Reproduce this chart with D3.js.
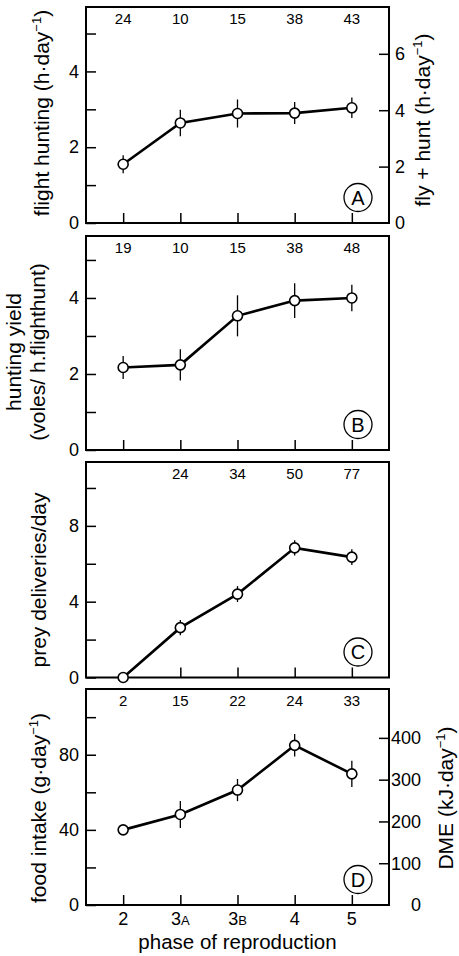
<!DOCTYPE html>
<html>
<head>
<meta charset="utf-8">
<script src="https://cdn.jsdelivr.net/npm/d3@7"></script>
<style>
  body { margin: 0; background: #fff; }
  svg { display: block; font-family: "Liberation Sans", Arial, Helvetica, sans-serif; }
</style>
</head>
<body>
<svg id="chart"></svg>
<script>
// phases of reproduction (x categories)
var phases = ["2", "3A", "3B", "4", "5"];

// A: flight hunting (h/day)
var flightHunt = [1.55, 2.64, 2.89, 2.90, 3.04];
var flightHuntErr = [0.24, 0.35, 0.37, 0.29, 0.27];
var flightHuntN = ["24", "10", "15", "38", "43"];

// B: hunting yield (voles / h flighthunt)
var huntYield = [2.17, 2.24, 3.53, 3.93, 4.00];
var huntYieldErr = [0.30, 0.41, 0.54, 0.46, 0.35];
var huntYieldN = ["19", "10", "15", "38", "48"];

// C: prey deliveries per day
var preyDeliv = [0, 2.63, 4.40, 6.84, 6.35];
var preyDelivErr = [0, 0.40, 0.42, 0.40, 0.42];
var preyDelivN = ["", "24", "34", "50", "77"];

// D: food intake (g/day)
var foodIntake = [40, 48.2, 61.2, 85, 69.8];
var foodIntakeErr = [1.5, 7.2, 5.9, 6.0, 7.0];
var foodIntakeN = ["2", "15", "22", "24", "33"];

// axis ticks
var ticksA = [0, 1, 2, 3, 4, 5], labelsA = [0, 2, 4];
var ticksB = [0, 1, 2, 3, 4, 5], labelsB = [0, 2, 4];
var ticksC = [0, 2, 4, 6, 8, 10], labelsC = [0, 4, 8];
var ticksD = [0, 20, 40, 60, 80, 100], labelsD = [0, 40, 80];
var ticksARight = [2, 4, 6], labelsARight = [0, 2, 4, 6];
var ticksDRight = [100, 200, 300, 400], labelsDRight = [0, 100, 200, 300, 400];

var W = 459, H = 956;
var left = 86, right = 389;

var svg = d3.select("#chart").attr("width", W).attr("height", H);

var x = d3.scalePoint().domain(phases).range([left, right]).padding(0.65);

var panels = [
  { tag: "A", top: 7, bottom: 223, yMax: 5.7, vals: flightHunt, err: flightHuntErr, n: flightHuntN,
    ticks: ticksA, labels: labelsA, xTicks: phases,
    rMax: 7.66, rTicks: ticksARight, rLabels: labelsARight, rAnchor: "start", rX: 395 },
  { tag: "B", top: 236, bottom: 450, yMax: 5.63, vals: huntYield, err: huntYieldErr, n: huntYieldN,
    ticks: ticksB, labels: labelsB, xTicks: phases },
  { tag: "C", top: 462, bottom: 677.5, yMax: 11.37, vals: preyDeliv, err: preyDelivErr, n: preyDelivN,
    ticks: ticksC, labels: labelsC, xTicks: phases.slice(1) },
  { tag: "D", top: 689, bottom: 905, yMax: 115, vals: foodIntake, err: foodIntakeErr, n: foodIntakeN,
    ticks: ticksD, labels: labelsD, xTicks: phases,
    rMax: 517, rTicks: ticksDRight, rLabels: labelsDRight, rAnchor: "end", rX: 421 }
];

panels.forEach(function (p) {
  var y = d3.scaleLinear().domain([0, p.yMax]).range([p.bottom, p.top]);
  var g = svg.append("g");

  // left axis, inward ticks
  var la = g.append("g")
    .attr("transform", "translate(" + left + ",0)")
    .call(d3.axisLeft(y).tickValues(p.ticks).tickSize(-10).tickPadding(7)
      .tickFormat(function (d) { return p.labels.indexOf(d) >= 0 ? d : ""; }));
  la.select(".domain").remove();
  la.selectAll("line").attr("stroke-width", 1.5);
  la.selectAll("text").attr("font-size", 18).attr("font-family", null);

  // right axis (A and D only), labels placed by hand so "0" has no tick
  if (p.rMax) {
    var yr = d3.scaleLinear().domain([0, p.rMax]).range([p.bottom, p.top]);
    var ra = g.append("g")
      .attr("transform", "translate(" + right + ",0)")
      .call(d3.axisRight(yr).tickValues(p.rTicks).tickSize(-10).tickFormat(""));
    ra.select(".domain").remove();
    ra.selectAll("line").attr("stroke-width", 1.5);
    g.selectAll(".rlab")
      .data(p.rLabels)
      .enter().append("text")
      .attr("class", "rlab")
      .attr("x", p.rX)
      .attr("y", function (d) { return yr(d); })
      .attr("dy", "0.35em")
      .attr("text-anchor", p.rAnchor)
      .attr("font-size", 18)
      .text(function (d) { return d; });
  }

  // bottom inward ticks
  var ba = g.append("g")
    .attr("transform", "translate(0," + p.bottom + ")")
    .call(d3.axisBottom(x).tickValues(p.xTicks).tickSize(-10).tickFormat(""));
  ba.select(".domain").remove();
  ba.selectAll("line").attr("stroke-width", 1.5);

  // frame
  g.append("rect")
    .attr("x", left).attr("y", p.top)
    .attr("width", right - left).attr("height", p.bottom - p.top)
    .attr("fill", "none").attr("stroke", "#000").attr("stroke-width", 2);

  // sample sizes along the top
  g.selectAll(".nlab")
    .data(p.n)
    .enter().append("text")
    .attr("class", "nlab")
    .attr("x", function (d, i) { return x(phases[i]); })
    .attr("y", p.top + 17)
    .attr("text-anchor", "middle")
    .attr("font-size", 15)
    .text(function (d) { return d; });

  // error bars
  g.selectAll(".err")
    .data(p.vals)
    .enter().append("line")
    .attr("class", "err")
    .attr("x1", function (d, i) { return x(phases[i]); })
    .attr("x2", function (d, i) { return x(phases[i]); })
    .attr("y1", function (d, i) { return y(d - p.err[i]); })
    .attr("y2", function (d, i) { return y(d + p.err[i]); })
    .attr("stroke", "#000").attr("stroke-width", 1.3);

  // line
  var line = d3.line()
    .x(function (d, i) { return x(phases[i]); })
    .y(function (d) { return y(d); });
  g.append("path")
    .datum(p.vals)
    .attr("d", line)
    .attr("fill", "none").attr("stroke", "#000").attr("stroke-width", 2.6);

  // markers
  g.selectAll(".pt")
    .data(p.vals)
    .enter().append("circle")
    .attr("class", "pt")
    .attr("cx", function (d, i) { return x(phases[i]); })
    .attr("cy", function (d) { return y(d); })
    .attr("r", 5)
    .attr("fill", "#fff").attr("stroke", "#000").attr("stroke-width", 1.6);

  // circled panel letter
  g.append("circle")
    .attr("cx", 358).attr("cy", p.bottom - 25.5).attr("r", 14)
    .attr("fill", "#fff").attr("stroke", "#000").attr("stroke-width", 1.3);
  g.append("text")
    .attr("x", 358).attr("y", p.bottom - 25.5)
    .attr("dy", "0.36em")
    .attr("text-anchor", "middle")
    .attr("font-size", 20)
    .text(p.tag);
});

// x tick labels under panel D (small-cap suffix)
var xl = svg.selectAll(".xlab")
  .data(phases)
  .enter().append("text")
  .attr("class", "xlab")
  .attr("x", function (d) { return x(d); })
  .attr("y", 925)
  .attr("text-anchor", "middle")
  .attr("font-size", 18);
xl.append("tspan").text(function (d) { return d.charAt(0); });
xl.append("tspan").attr("font-size", 13).text(function (d) { return d.slice(1); });

svg.append("text")
  .attr("x", 237.5).attr("y", 949)
  .attr("text-anchor", "middle")
  .attr("font-size", 20.5)
  .text("phase of reproduction");

// rotated axis titles
function vlabel(xPos, yPos, parts) {
  var t = svg.append("text")
    .attr("transform", "translate(" + xPos + "," + yPos + ") rotate(-90)")
    .attr("text-anchor", "middle")
    .attr("font-size", 21);
  parts.forEach(function (s) {
    var ts = t.append("tspan").text(s.text);
    if (s.sup) ts.attr("font-size", 13).attr("dy", -8);
    if (s.down) ts.attr("dy", 8);
  });
}

vlabel(49, 113, [{ text: "flight hunting (h·day" }, { text: "−1", sup: true }, { text: ")", down: true }]);
vlabel(430, 120, [{ text: "fly + hunt (h·day" }, { text: "−1", sup: true }, { text: ")", down: true }]);
vlabel(21, 352, [{ text: "hunting yield" }]);
vlabel(45, 352, [{ text: "(voles/ h.flighthunt)" }]);
vlabel(46, 580, [{ text: "prey deliveries/day" }]);
vlabel(46, 808, [{ text: "food intake (g·day" }, { text: "−1", sup: true }, { text: ")", down: true }]);
vlabel(453, 798, [{ text: "DME (kJ·day" }, { text: "−1", sup: true }, { text: ")", down: true }]);
</script>
</body>
</html>
